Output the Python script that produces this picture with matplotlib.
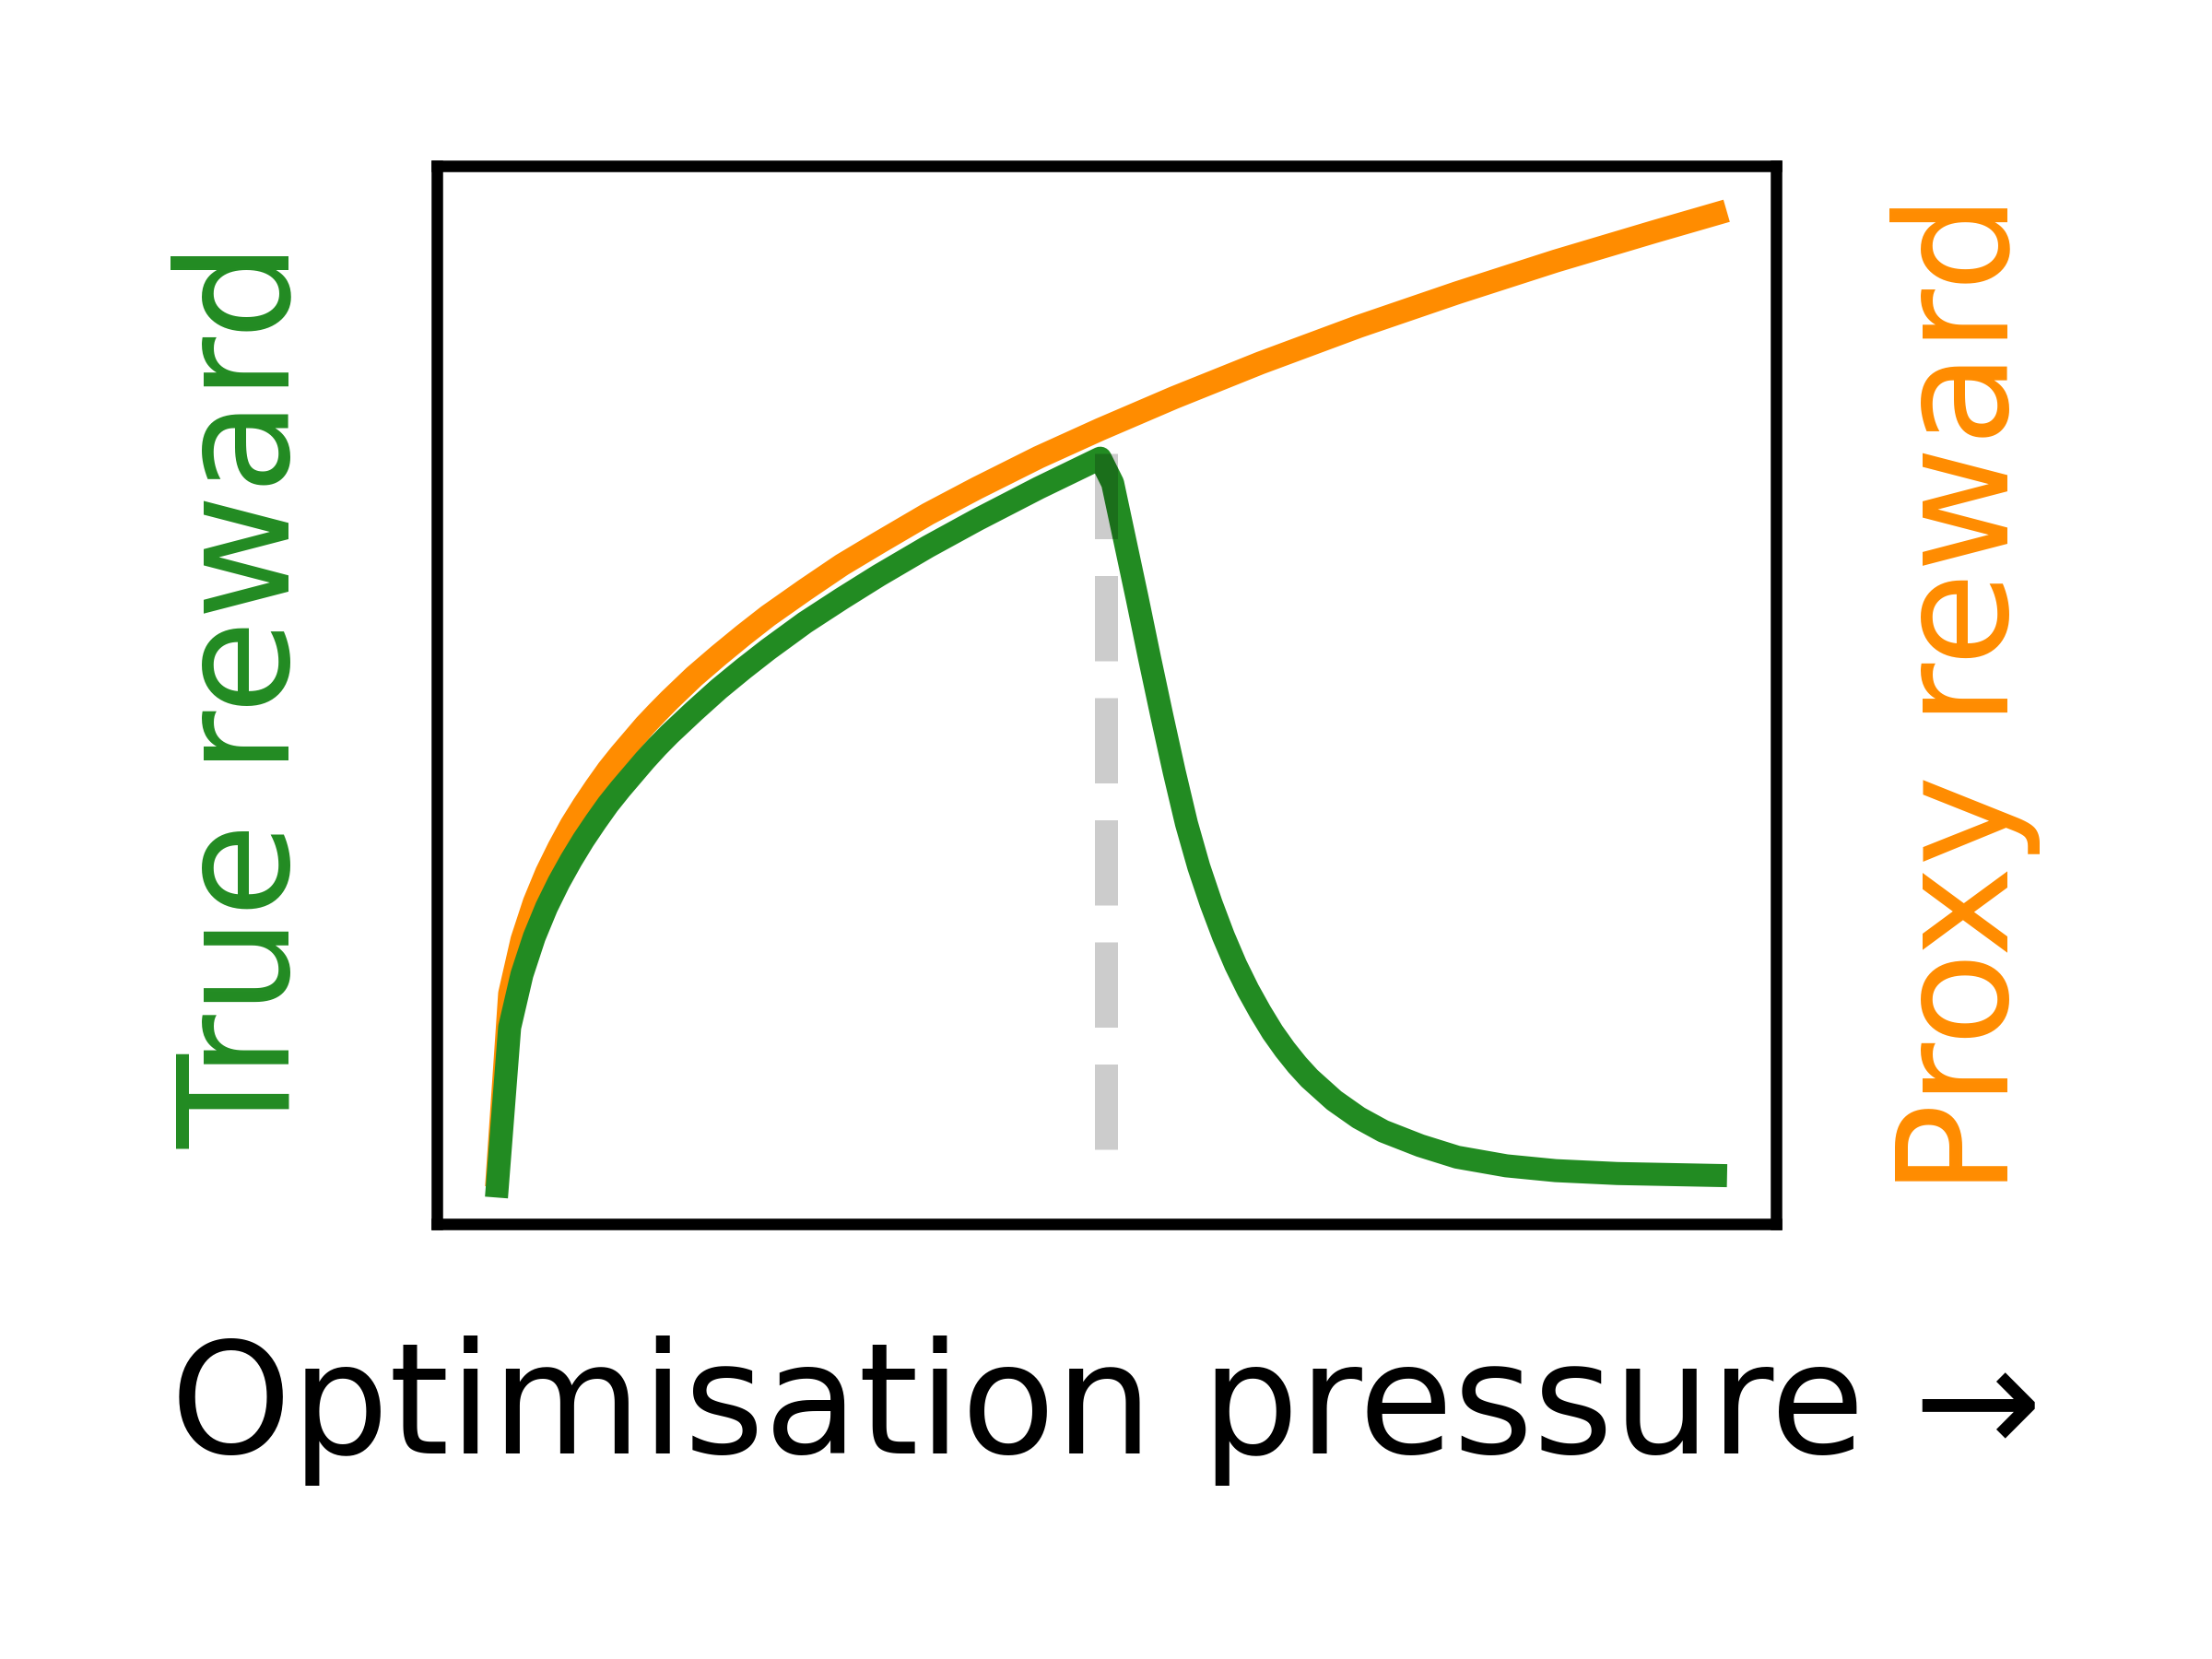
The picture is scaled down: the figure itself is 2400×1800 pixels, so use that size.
import matplotlib
matplotlib.use("Agg")
import matplotlib.pyplot as plt

# optimisation pressure (x) and rewards
proxy_x = [0, 0.0101, 0.0202, 0.0303, 0.0404, 0.0505, 0.0606, 0.0707, 0.0808,
           0.0909, 0.1010, 0.1111, 0.1212, 0.1313, 0.1414, 0.1616, 0.1818,
           0.2020, 0.2222, 0.2525, 0.2828, 0.3131, 0.3535, 0.3939, 0.4444,
           0.4949, 0.5556, 0.6263, 0.7071, 0.7879, 0.8687, 0.9495, 1.0]
proxy_y = [0.0, 0.189, 0.245, 0.284, 0.315, 0.341, 0.3645, 0.385, 0.404,
           0.422, 0.438, 0.453, 0.468, 0.4815, 0.4945, 0.519, 0.541,
           0.562, 0.582, 0.609, 0.635, 0.658, 0.688, 0.715, 0.747,
           0.776, 0.809, 0.845, 0.883, 0.918, 0.951, 0.9815, 1.0]

true_x = [0, 0.0101, 0.0202, 0.0303, 0.0404, 0.0505, 0.0606, 0.0707, 0.0808,
          0.0909, 0.1010, 0.1111, 0.1212, 0.1313, 0.1414, 0.1616, 0.1818,
          0.2020, 0.2222, 0.2525, 0.2828, 0.3131, 0.3535, 0.3939, 0.4444,
          0.4949, 0.5051, 0.5152, 0.5253, 0.5354, 0.5455, 0.5556, 0.5657,
          0.5758, 0.5859, 0.5960, 0.6061, 0.6162, 0.6263, 0.6364, 0.6465,
          0.6566, 0.6667, 0.6869, 0.7071, 0.7273, 0.7576, 0.7879, 0.8283,
          0.8687, 0.9192, 1.0]
true_y = [-0.011, 0.154, 0.209, 0.248, 0.279, 0.305, 0.328, 0.349, 0.368,
          0.386, 0.402, 0.417, 0.432, 0.446, 0.459, 0.483, 0.506,
          0.527, 0.547, 0.575, 0.600, 0.624, 0.654, 0.682, 0.715,
          0.746, 0.720, 0.660, 0.600, 0.538, 0.478, 0.420, 0.366,
          0.321, 0.283, 0.249, 0.219, 0.193, 0.170, 0.149, 0.131,
          0.115, 0.101, 0.078, 0.060, 0.046, 0.031, 0.019, 0.010,
          0.005, 0.002, 0.0]

peak_x = 0.5
peak_y = 0.751

fig = plt.figure(figsize=(8, 6), dpi=300)
ax = fig.add_axes([0.1973, 0.2625, 0.6058, 0.6375])

ax.plot(proxy_x, proxy_y, color='darkorange', linewidth=6)
ax.plot(true_x, true_y, color='forestgreen', linewidth=6)
ax.plot([peak_x, peak_x], [peak_y, 0.0], linestyle='--', color='k', alpha=0.2, linewidth=6)

ax.set_xlim(-0.05, 1.05)
ax.set_ylim(-0.05, 1.05)
ax.set_xticks([])
ax.set_yticks([])
for s in ax.spines.values():
    s.set_linewidth(3)
    s.set_color('black')

ax.text(-0.1417, 0.5, "True reward", color='forestgreen', fontsize=40,
        rotation=90, ha='center', va='center', transform=ax.transAxes)
ax.text(1.1413, 0.5, "Proxy reward", color='darkorange', fontsize=40,
        rotation=90, ha='center', va='center', transform=ax.transAxes)
ax.text(0.5, -0.177, "Optimisation pressure \u2192", color='black', fontsize=40,
        ha='center', va='center', transform=ax.transAxes)

fig.savefig("out.png", dpi=300)
